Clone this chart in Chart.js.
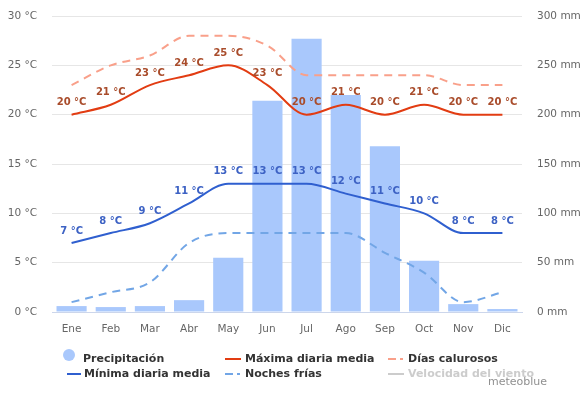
<!DOCTYPE html>
<html>
<head>
<meta charset="utf-8">
<script src="https://cdn.jsdelivr.net/npm/chart.js@4/dist/chart.umd.min.js"></script>
<style>
  body { margin: 0; background: #fff; }
  #caja { position: relative; width: 580px; height: 394px; font-family: "DejaVu Sans", sans-serif; }
  #caja canvas { position: absolute; left: 0; top: 0; }
  .ley { position: absolute; font-size: 11px; font-weight: bold; color: #333; line-height: 14px; white-space: nowrap; }
  .ico { position: absolute; height: 2px; }
  .punto { position: absolute; width: 12px; height: 12px; border-radius: 50%; background: #a9c8fc; }
  .marca { position: absolute; font-size: 11px; color: #909090; white-space: nowrap; }
</style>
</head>
<body>
<div id="caja">
  <canvas id="graficoClima" width="580" height="394"></canvas>

  <div class="punto" style="left:63px; top:349px;"></div>
  <div class="ley" style="left:83px; top:352px;">Precipitación</div>
  <div class="ico" style="left:67px; top:373px; width:14px; background:#2f5fcf;"></div>
  <div class="ley" style="left:84px; top:367px;">Mínima diaria media</div>

  <div class="ico" style="left:225px; top:358px; width:16px; background:#e23c12;"></div>
  <div class="ley" style="left:245px; top:352px;">Máxima diaria media</div>
  <div class="ico" style="left:225px; top:373px; width:8px; background:#72a6e6;"></div>
  <div class="ico" style="left:237px; top:373px; width:3px; background:#72a6e6;"></div>
  <div class="ley" style="left:245px; top:367px;">Noches frías</div>

  <div class="ico" style="left:388px; top:358px; width:8px; background:#f9a08a;"></div>
  <div class="ico" style="left:400px; top:358px; width:3px; background:#f9a08a;"></div>
  <div class="ley" style="left:408px; top:352px;">Días calurosos</div>
  <div class="ico" style="left:388px; top:373px; width:16px; background:#cccccc;"></div>
  <div class="ley" style="left:408px; top:367px; color:#cccccc;">Velocidad del viento</div>

  <div class="marca" style="left:488px; top:375px;">meteoblue</div>
</div>

<script>
var meses = ["Ene", "Feb", "Mar", "Abr", "May", "Jun", "Jul", "Ago", "Sep", "Oct", "Nov", "Dic"];
var precipitacion = [6, 5, 6, 12, 55, 214, 277, 220, 168, 52, 8, 3];
var maximaMedia = [20, 21, 23, 24, 25, 23, 20, 21, 20, 21, 20, 20];
var minimaMedia = [7, 8, 9, 11, 13, 13, 13, 12, 11, 10, 8, 8];
var diasCalurosos = [23, 25, 26, 28, 28, 27, 24, 24, 24, 24, 23, 23];
var nochesFrias = [1, 2, 3, 7, 8, 8, 8, 8, 6, 4, 1, 2];

var ticksTemp = [0, 5, 10, 15, 20, 25, 30];
var ticksLluvia = [0, 50, 100, 150, 200, 250, 300];

// etiquetas "NN °C" encima de las curvas de maxima y minima
var etiquetasValores = {
    id: "etiquetasValores",
    afterDatasetsDraw: function (chart) {
        var ctx = chart.ctx;
        ctx.save();
        ctx.font = "bold 10px 'DejaVu Sans', sans-serif";
        ctx.textAlign = "center";
        ctx.textBaseline = "middle";
        chart.data.datasets.forEach(function (ds, i) {
            if (!ds.colorEtiqueta) return;
            var meta = chart.getDatasetMeta(i);
            ctx.fillStyle = ds.colorEtiqueta;
            meta.data.forEach(function (p, j) {
                ctx.fillText(ds.data[j] + " °C", p.x, p.y - 12);
            });
        });
        ctx.restore();
    }
};

var fuenteEjes = { family: "'DejaVu Sans', sans-serif", size: 10.5 };

document.addEventListener("DOMContentLoaded", function () {
    var ctx = document.getElementById("graficoClima").getContext("2d");

    new Chart(ctx, {
        data: {
            labels: meses,
            datasets: [{
                type: "line",
                label: "Máxima diaria media",
                data: maximaMedia,
                yAxisID: "y",
                borderColor: "#e23c12",
                borderWidth: 2,
                pointRadius: 0,
                cubicInterpolationMode: "monotone",
                colorEtiqueta: "#a94c2b",
                order: 1
            }, {
                type: "line",
                label: "Mínima diaria media",
                data: minimaMedia,
                yAxisID: "y",
                borderColor: "#2f5fcf",
                borderWidth: 2,
                pointRadius: 0,
                cubicInterpolationMode: "monotone",
                colorEtiqueta: "#3d62c4",
                order: 2
            }, {
                type: "line",
                label: "Días calurosos",
                data: diasCalurosos,
                yAxisID: "y",
                borderColor: "#f9a08a",
                borderWidth: 2,
                borderDash: [8, 6],
                pointRadius: 0,
                cubicInterpolationMode: "monotone",
                order: 3
            }, {
                type: "line",
                label: "Noches frías",
                data: nochesFrias,
                yAxisID: "y",
                borderColor: "#72a6e6",
                borderWidth: 2,
                borderDash: [8, 6],
                pointRadius: 0,
                cubicInterpolationMode: "monotone",
                order: 4
            }, {
                type: "bar",
                label: "Precipitación",
                data: precipitacion,
                yAxisID: "y1",
                backgroundColor: "#a9c8fc",
                borderWidth: 0,
                barPercentage: 0.77,
                categoryPercentage: 1,
                order: 5
            }]
        },
        options: {
            responsive: false,
            animation: false,
            devicePixelRatio: 1,
            layout: {
                padding: { top: 16, bottom: 58, left: 0, right: 0 }
            },
            plugins: {
                legend: { display: false },
                tooltip: { enabled: false }
            },
            scales: {
                x: {
                    grid: { display: false },
                    border: { color: "#ccd6eb" },
                    ticks: { color: "#666", font: fuenteEjes, padding: 3, maxRotation: 0 },
                    afterFit: function (scale) { scale.height = 24; }
                },
                y: {
                    position: "left",
                    min: 0,
                    max: 30,
                    afterBuildTicks: function (scale) {
                        scale.ticks = ticksTemp.map(function (v) { return { value: v }; });
                    },
                    // marcas invisibles: separan el texto sin agrandar el margen superior
                    grid: { color: "#e6e6e6", drawTicks: true, tickLength: 12, tickColor: "rgba(0,0,0,0)" },
                    border: { display: false },
                    ticks: {
                        color: "#666",
                        font: fuenteEjes,
                        padding: 3,
                        callback: function (v) { return v + " °C"; }
                    },
                    afterFit: function (scale) { scale.width = 52; }
                },
                y1: {
                    position: "right",
                    min: 0,
                    max: 300,
                    afterBuildTicks: function (scale) {
                        scale.ticks = ticksLluvia.map(function (v) { return { value: v }; });
                    },
                    grid: { drawOnChartArea: false, drawTicks: true, tickLength: 12, tickColor: "rgba(0,0,0,0)" },
                    border: { display: false },
                    ticks: {
                        color: "#666",
                        font: fuenteEjes,
                        padding: 3,
                        callback: function (v) { return v + " mm"; }
                    },
                    afterFit: function (scale) { scale.width = 58; }
                }
            }
        },
        plugins: [etiquetasValores]
    });
});
</script>
</body>
</html>
